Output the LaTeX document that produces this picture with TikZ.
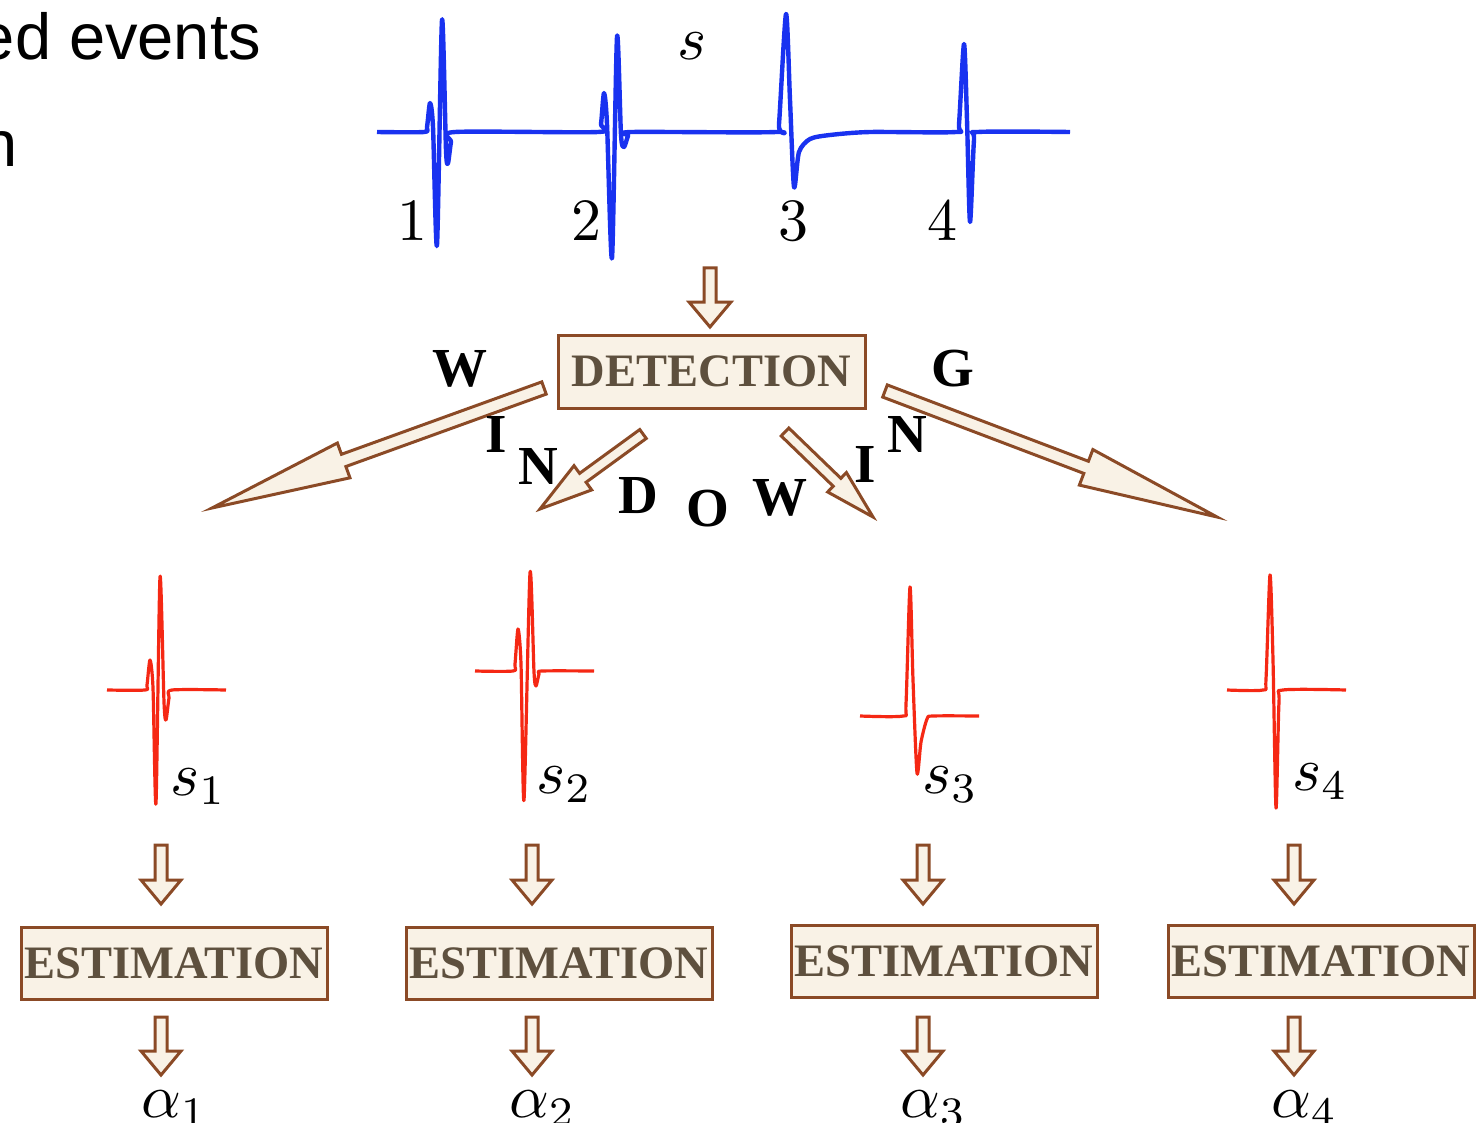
\RequirePackage{fix-cm}
\documentclass[tikz,border=0pt]{standalone}
\usepackage{fontspec}
\newfontfamily\boxfont{Liberation Serif}
\newfontfamily\sansfnt{Liberation Sans}
\usetikzlibrary{calc}
\definecolor{brownline}{RGB}{139,74,38}
\definecolor{creamfill}{RGB}{249,242,230}
\definecolor{boxtext}{RGB}{94,80,62}
\definecolor{sigblue}{RGB}{25,50,240}
\definecolor{sigred}{RGB}{245,40,20}
\font\bigrm=cmr10 at 60pt
\font\bigmi=cmmi10 at 62pt
\font\subrm=cmr7 at 42pt
\newcommand\sublab[2]{#1\lower9pt\hbox{\subrm #2}}
% tail, tip, half shaft width, head length, head half width
\newcommand\blockarr[5]{%
  \coordinate (#1hb) at ($(#2)!#4!(#1)$);
  \draw[blockarrow] ($(#1)!#3!90:(#2)$) -- ($(#1hb)!#3!90:(#2)$) -- ($(#1hb)!#5!90:(#2)$) -- (#2)
    -- ($(#1hb)!#5!-90:(#2)$) -- ($(#1hb)!#3!-90:(#2)$) -- ($(#1)!#3!-90:(#2)$) -- cycle;}
\begin{document}
\begin{tikzpicture}[x=1pt,y=-1pt,
  blockarrow/.style={draw=brownline, fill=creamfill, line width=3pt, line join=miter},
  procbox/.style={draw=brownline, fill=creamfill, line width=3pt, minimum width=306pt,
    minimum height=72pt, inner sep=0pt, text=boxtext,
    font=\boxfont\bfseries\fontsize{46.5}{56}\selectfont},
  windletter/.style={font=\boxfont\bfseries\fontsize{55}{66}\selectfont, anchor=base, inner sep=0pt},
  biglabel/.style={inner sep=0pt},
  bluesig/.style={draw=sigblue, line width=4.4pt, line join=round},
  redsig/.style={draw=sigred, line width=3.2pt, line join=round}]
\useasboundingbox (0,0) rectangle (1477,1123);
\fill[white] (0,0) rectangle (1477,1123);

% header text (cut off at the left edge)
\node[anchor=base east, inner sep=0pt, font=\sansfnt\fontsize{65}{78}\selectfont] (hdr1) at (261,60) {ed events};
\node[anchor=base east, inner sep=0pt, font=\sansfnt\fontsize{65}{78}\selectfont] (hdr2) at (18,167) {n};

% blue signal s
\draw[bluesig] plot[smooth, tension=0.45] coordinates {
 (377,132) (424,132) (427,127) (430,103) (433,127) (437,245) (442,20) (446,150) (448,163) (451,142) (455,132)
 (598,132) (601,124) (604,93) (607,124) (612,258) (617,37) (621,135) (624,147) (628,136) (632,132)
 (776,132) (779,124) (786,14) (790,100) (794,187) (799,152) (810,139) (830,135) (870,132)
 (956,132) (959,124) (964,44) (967,120) (970,222) (974,140) (978,132) (1070,132)};
\node[biglabel, anchor=base west] (slab) at (677,60) {\bigmi s};
\node[biglabel, anchor=base] (n1) at (412,241) {\bigrm 1};
\node[biglabel, anchor=base] (n2) at (586,241) {\bigrm 2};
\node[biglabel, anchor=base] (n3) at (793,241) {\bigrm 3};
\node[biglabel, anchor=base] (n4) at (942,241) {\bigrm 4};

% detection
\node[procbox, minimum width=307pt, minimum height=73pt] (det) at (711.5,371.5) {DETECTION};
\coordinate (sigout) at (710,268);
\coordinate (detin) at (710,327);
\blockarr{sigout}{detin}{6pt}{25pt}{21pt}

% windowing arrows
\coordinate (dA) at (544,388); \coordinate (tA) at (212,508);
\coordinate (dB) at (643,434); \coordinate (tB) at (540,509);
\coordinate (dC) at (785,432); \coordinate (tC) at (873,517);
\coordinate (dD) at (885,391); \coordinate (tD) at (1217,517);
\blockarr{dA}{tA}{6.5pt}{140pt}{18.5pt}
\blockarr{dB}{tB}{5.5pt}{53pt}{15pt}
\blockarr{dC}{tC}{5.5pt}{50pt}{13.5pt}
\blockarr{dD}{tD}{6.5pt}{140pt}{19pt}

% WINDOWING letters
\node[windletter] (L1) at (460,386) {W};
\node[windletter] (L2) at (496,452) {I};
\node[windletter] (L3) at (538,484) {N};
\node[windletter] (L4) at (638,513) {D};
\node[windletter] (L5) at (708,526) {O};
\node[windletter] (L6) at (780,515) {W};
\node[windletter] (L7) at (865,482) {I};
\node[windletter] (L8) at (907,452) {N};
\node[windletter] (L9) at (953,386) {G};

% red pulses
\draw[redsig] plot[smooth, tension=0.45] coordinates {
 (107,690) (145,690) (147,685) (150,660) (153,688) (156,803) (160,577) (164,702) (166,720) (169,698) (172,690) (226,690)};
\draw[redsig] plot[smooth, tension=0.45] coordinates {
 (475,671) (513,671) (515,664) (518,629) (521,664) (524,800) (530,573) (534,672) (536,686) (539,674) (542,671) (594,671)};
\draw[redsig] plot[smooth, tension=0.45] coordinates {
 (860,716) (903,716) (906,704) (910,587) (913,680) (917,773) (921,742) (927,719) (933,716) (979,716)};
\draw[redsig] plot[smooth, tension=0.45] coordinates {
 (1227,690) (1263,690) (1266,679) (1270,575) (1273,660) (1276,808) (1279,702) (1283,690) (1346,690)};
\node[biglabel, anchor=base west] (s1) at (170,795) {\sublab{\bigmi s}{1}};
\node[biglabel, anchor=base west] (s2) at (536,793) {\sublab{\bigmi s}{2}};
\node[biglabel, anchor=base west] (s3) at (922,793) {\sublab{\bigmi s}{3}};
\node[biglabel, anchor=base west] (s4) at (1292,790) {\sublab{\bigmi s}{4}};

% estimation boxes
\node[procbox] (e1) at (174,963) {ESTIMATION};
\node[procbox] (e2) at (559,963) {ESTIMATION};
\node[procbox] (e3) at (944,961) {ESTIMATION};
\node[procbox] (e4) at (1321,961) {ESTIMATION};

\foreach \i/\x in {1/161,2/532,3/923,4/1294}{
  \coordinate (in\i) at (\x,845); \coordinate (ein\i) at (\x,904);
  \coordinate (out\i) at (\x,1017); \coordinate (aout\i) at (\x,1075);
  \blockarr{in\i}{ein\i}{6pt}{24pt}{20pt}
  \blockarr{out\i}{aout\i}{6pt}{24pt}{20pt}
}

\node[biglabel, anchor=base west] (a1) at (141,1117) {\sublab{\bigmi\char11}{1}};
\node[biglabel, anchor=base west] (a2) at (509,1117) {\sublab{\bigmi\char11}{2}};
\node[biglabel, anchor=base west] (a3) at (900,1117) {\sublab{\bigmi\char11}{3}};
\node[biglabel, anchor=base west] (a4) at (1271,1117) {\sublab{\bigmi\char11}{4}};
\end{tikzpicture}
\end{document}
